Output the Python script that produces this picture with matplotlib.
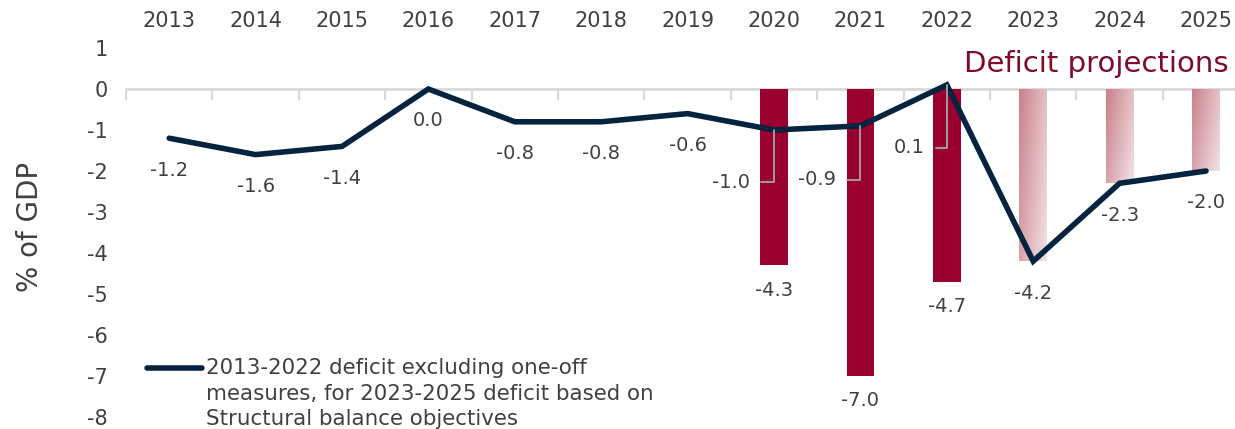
import numpy as np
import matplotlib
matplotlib.use("Agg")
import matplotlib.pyplot as plt
from matplotlib.colors import LinearSegmentedColormap
from matplotlib.legend_handler import HandlerLine2D
from matplotlib.lines import Line2D

# ---------------- data ----------------
years = ["2013", "2014", "2015", "2016", "2017", "2018", "2019",
         "2020", "2021", "2022", "2023", "2024", "2025"]
line_values = [-1.2, -1.6, -1.4, 0.0, -0.8, -0.8, -0.6, -1.0, -0.9, 0.1, -4.2, -2.3, -2.0]
bar_years = ["2020", "2021", "2022", "2023", "2024", "2025"]
bar_values = [-4.3, -7.0, -4.7, -4.2, -2.3, -2.0]
bar_projected = [False, False, False, True, True, True]
bar_labelled = [True, True, True, False, False, False]
y_ticks = [1, 0, -1, -2, -3, -4, -5, -6, -7, -8]
legend_label = ("2013-2022 deficit excluding one-off\n"
                "measures, for 2023-2025 deficit based on\n"
                "Structural balance objectives")
y_label = "% of GDP"
projection_label = "Deficit projections"

# ---------------- style ----------------
NAVY = "#03233F"
CRIMSON = "#990030"
DARKRED = "#7E0A2C"
TEXT = "#404040"
GRID = "#D9D9D9"
LEADER = "#A6A6A6"

W, H = 1235, 429
fig = plt.figure(figsize=(W / 100, H / 100), dpi=100)
ax = fig.add_axes([126 / W, (H - 417) / H, 1123.2 / W, (417 - 48) / H])

x = np.arange(len(years))
xi = {y: i for i, y in enumerate(years)}
bx = np.array([xi[y] for y in bar_years])

# bars
grad_cmap = LinearSegmentedColormap.from_list("proj", ["#CA808A", "#F2E2E4"])
gy, gx = np.mgrid[0:1:50j, 0:1:50j]
grad = 0.65 * gx + 0.35 * gy
bars = ax.bar(bx, bar_values, width=0.32, color=CRIMSON, zorder=2, linewidth=0)
for patch, proj in zip(bars, bar_projected):
    if proj:
        patch.set_facecolor("none")
        x0, y0 = patch.get_x(), patch.get_y()
        w, h = patch.get_width(), patch.get_height()
        im = ax.imshow(grad, cmap=grad_cmap, vmin=0, vmax=1, aspect="auto",
                       extent=(x0, x0 + w, y0 + h, y0), origin="upper", zorder=2,
                       interpolation="bilinear")
        im.set_clip_path(patch)

# bar labels
for i, v, lab in zip(bx, bar_values, bar_labelled):
    if lab:
        ax.annotate(f"{v:.1f}", (i, v), xytext=(0, -25), textcoords="offset pixels",
                    ha="center", va="center", fontsize=14, color=TEXT, zorder=5)

# line
ax.plot(x, line_values, color=NAVY, lw=4, solid_capstyle="round",
        solid_joinstyle="miter", zorder=4, label=legend_label)

# line labels
leader_offsets = {"2020": (-43, -52), "2021": (-43.5, -54), "2022": (-37.5, -63)}
for i, (yr, v) in enumerate(zip(years, line_values)):
    if yr in leader_offsets:
        dx, dy = leader_offsets[yr]
        ax.annotate(f"{v:.1f}", (i, v), xytext=(dx, dy), textcoords="offset pixels",
                    ha="center", va="center", fontsize=14, color=TEXT, zorder=5,
                    arrowprops=dict(arrowstyle="-", color=LEADER, lw=1.3,
                                    connectionstyle="angle,angleA=0,angleB=90,rad=0",
                                    relpos=(1, 0.5), shrinkA=6, shrinkB=0))
    else:
        ax.annotate(f"{v:.1f}", (i, v), xytext=(0, -32), textcoords="offset pixels",
                    ha="center", va="center", fontsize=14, color=TEXT, zorder=5)

# axes
ax.set_xlim(-0.5, len(years) - 0.5)
ax.set_ylim(-8, 1)
for s in ["left", "right", "top"]:
    ax.spines[s].set_visible(False)
ax.spines["bottom"].set_position(("data", 0))
ax.spines["bottom"].set_color(GRID)
ax.spines["bottom"].set_linewidth(2)
ax.spines["bottom"].set_zorder(1)

ax.set_xticks(x)
ax.set_xticklabels(years)
ax.set_xticks(np.arange(len(years) + 1) - 0.5, minor=True)
ax.tick_params(axis="x", which="major", bottom=False, top=False, labelbottom=False,
               labeltop=True, labelsize=15, labelcolor=TEXT, pad=8.5)
ax.tick_params(axis="x", which="minor", bottom=True, top=False, direction="out",
               length=8, width=1.5, color=GRID)
ax.set_yticks(y_ticks)
ax.set_yticklabels([str(t) for t in y_ticks])
ax.tick_params(axis="y", length=0, labelsize=15, labelcolor=TEXT, pad=13)

# texts
fig.text(30 / W, (H - 227) / H, y_label, rotation=90, ha="center", va="center",
         fontsize=20, color=TEXT)
fig.text(1229 / W, (H - 72) / H, projection_label, ha="right", va="baseline",
         fontsize=21, color=DARKRED)


# legend: handle aligned with the first text line
class TopLineHandler(HandlerLine2D):
    def __init__(self, shift, **kw):
        super().__init__(**kw)
        self.shift = shift

    def create_artists(self, legend, orig_handle, xdescent, ydescent, width,
                       height, fontsize, trans):
        arts = super().create_artists(legend, orig_handle, xdescent, ydescent,
                                      width, height, fontsize, trans)
        for a in arts:
            if isinstance(a, Line2D):
                a.set_ydata(np.asarray(a.get_ydata(), dtype=float) + self.shift)
                a.set_solid_capstyle("round")
        return arts


line_handle = ax.get_lines()[0]
leg = ax.legend(handles=[line_handle], labels=[legend_label],
                handler_map={line_handle: TopLineHandler(shift=19.0)},
                loc="upper left", bbox_to_anchor=(147 / W, (H - 358.5) / H),
                bbox_transform=fig.transFigure, frameon=False, fontsize=15.4,
                handlelength=2.55, handletextpad=0.2, borderpad=0, borderaxespad=0,
                labelspacing=0)
for t in leg.get_texts():
    t.set_color(TEXT)
    t.set_linespacing(1.32)

fig.savefig("out.png", dpi=100)
